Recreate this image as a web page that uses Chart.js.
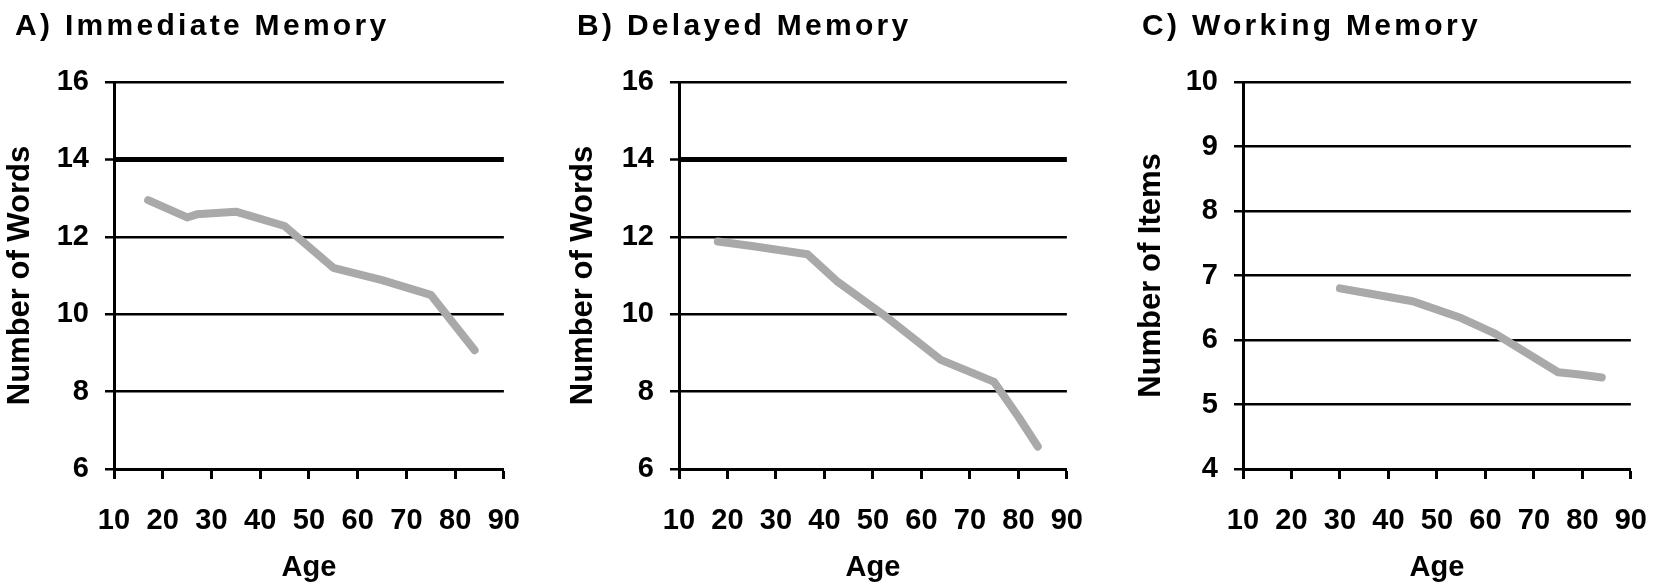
<!DOCTYPE html>
<html>
<head>
<meta charset="utf-8">
<title>Memory performance by age</title>
<script src="https://cdn.jsdelivr.net/npm/chart.js@4.4.1/dist/chart.umd.min.js"></script>
<style>
  html, body { margin: 0; padding: 0; background: #fff; }
  body { width: 1672px; height: 585px; position: relative; overflow: hidden; }
  canvas { position: absolute; top: 0; }
</style>
</head>
<body>
<canvas id="panelA" width="545" height="585" style="left:0px"></canvas>
<canvas id="panelB" width="560" height="585" style="left:548px"></canvas>
<canvas id="panelC" width="562" height="585" style="left:1110px"></canvas>
<script>
// Mean scores by age
const ageImmediate = [17, 25, 27, 35, 45, 55, 65, 75, 84];
const wordsImmediate = [12.95, 12.5, 12.58, 12.65, 12.28, 11.2, 10.88, 10.5, 9.07];

const ageDelayed = [18, 25, 36.5, 42.5, 52, 64, 75, 80, 84];
const wordsDelayed = [11.88, 11.76, 11.55, 10.86, 10.0, 8.82, 8.25, 7.35, 6.58];

const ageWorking = [30, 36, 45, 55, 62, 75, 79, 84];
const itemsWorking = [6.8, 6.72, 6.6, 6.34, 6.1, 5.5, 5.47, 5.42];

// Axis ranges and labels
const ageTicks = [10, 20, 30, 40, 50, 60, 70, 80, 90];
const wordRange = [6, 16];
const itemRange = [4, 10];
const panelTitles = ['A) Immediate Memory', 'B) Delayed Memory', 'C) Working Memory'];
const yTitles = ['Number of Words', 'Number of Words', 'Number of Items'];
const xTitle = 'Age';

const FONT = '"Liberation Sans", Arial, Helvetica, sans-serif';
const LINE_GREY = '#a9a9a9';

// Panel heading drawn with a little tracking, as in the printed figure
const panelTitlePlugin = {
  id: 'panelTitle',
  afterDraw(chart, args, opts) {
    const ctx = chart.ctx;
    ctx.save();
    ctx.font = 'bold 30px ' + FONT;
    if ('letterSpacing' in ctx) ctx.letterSpacing = '3.3px';
    ctx.fillStyle = '#000';
    ctx.textAlign = 'left';
    ctx.textBaseline = 'alphabetic';
    ctx.fillText(opts.text, opts.x, opts.y);
    ctx.restore();
  }
};

function makePanel(id, cfg) {
  const points = cfg.ages.map((a, i) => ({ x: a, y: cfg.values[i] }));
  return new Chart(document.getElementById(id), {
    type: 'line',
    data: {
      datasets: [{
        data: points,
        borderColor: LINE_GREY,
        borderWidth: 8,
        borderCapStyle: 'round',
        borderJoinStyle: 'round',
        pointRadius: 0,
        tension: 0,
        fill: false
      }]
    },
    options: {
      responsive: false,
      animation: false,
      events: [],
      layout: { padding: { top: 82, right: cfg.padRight, bottom: 0, left: 0 } },
      plugins: {
        legend: { display: false },
        tooltip: { enabled: false },
        panelTitle: { text: cfg.title, x: cfg.titleX, y: 35 }
      },
      scales: {
        x: {
          type: 'linear',
          min: ageTicks[0],
          max: ageTicks[ageTicks.length - 1],
          afterBuildTicks(scale) { scale.ticks = ageTicks.map(v => ({ value: v })); },
          afterFit(scale) { scale.height = 116; },
          ticks: {
            color: '#000',
            padding: 25,
            maxRotation: 0,
            autoSkip: false,
            font: { family: FONT, size: 29, weight: 'bold' }
          },
          grid: {
            drawOnChartArea: false,
            drawTicks: true,
            tickLength: 10,
            tickWidth: 3,
            tickColor: '#000',
            color: '#000'
          },
          border: { display: true, color: '#000', width: 3 },
          title: {
            display: true,
            text: xTitle,
            color: '#000',
            padding: { top: 0, bottom: 0 },
            font: { family: FONT, size: 29, weight: 'bold' }
          }
        },
        y: {
          type: 'linear',
          min: cfg.range[0],
          max: cfg.range[1],
          afterFit(scale) { scale.width = cfg.axisLeft; },
          ticks: {
            stepSize: cfg.step,
            color: '#000',
            padding: 16,
            font: { family: FONT, size: 29, weight: 'bold' }
          },
          grid: {
            color: '#000',
            lineWidth: c => (cfg.heavy !== undefined && c.tick && c.tick.value === cfg.heavy) ? 5 : 2.5,
            drawTicks: true,
            tickLength: 9,
            tickWidth: 2.5,
            tickColor: '#000'
          },
          border: { display: true, color: '#000', width: 3 },
          title: {
            display: true,
            text: cfg.yTitle,
            color: '#000',
            padding: { top: cfg.yTitlePad, bottom: 0 },
            font: { family: FONT, size: 31, weight: 'bold' }
          }
        }
      }
    },
    plugins: [panelTitlePlugin]
  });
}

makePanel('panelA', {
  ages: ageImmediate, values: wordsImmediate,
  range: wordRange, step: 2, heavy: 14,
  title: panelTitles[0], titleX: 15,
  yTitle: yTitles[0], yTitlePad: 2,
  axisLeft: 114, padRight: 31
});

makePanel('panelB', {
  ages: ageDelayed, values: wordsDelayed,
  range: wordRange, step: 2, heavy: 14,
  title: panelTitles[1], titleX: 29,
  yTitle: yTitles[1], yTitlePad: 17,
  axisLeft: 131, padRight: 30
});

makePanel('panelC', {
  ages: ageWorking, values: itemsWorking,
  range: itemRange, step: 1,
  title: panelTitles[2], titleX: 32,
  yTitle: yTitles[2], yTitlePad: 23,
  axisLeft: 133, padRight: 35
});
</script>
</body>
</html>
